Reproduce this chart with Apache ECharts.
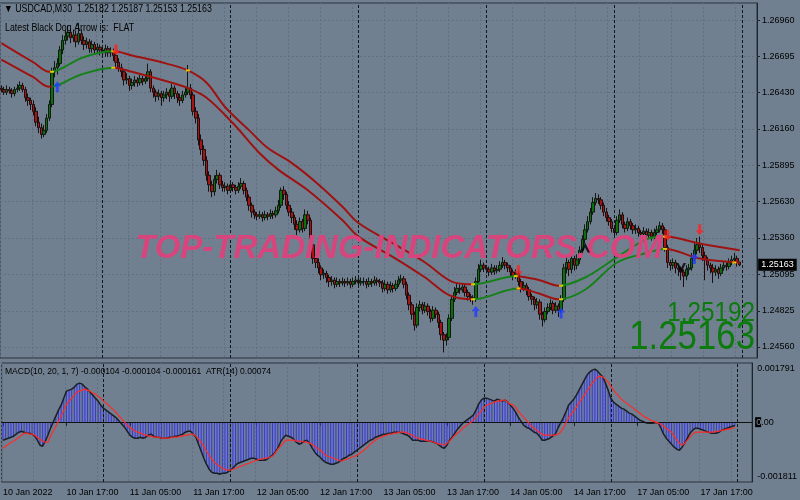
<!DOCTYPE html>
<html><head><meta charset="utf-8">
<script src="https://cdn.jsdelivr.net/npm/echarts@6/dist/echarts.min.js"></script>
<style>html,body{margin:0;padding:0;background:#708090;}#c{width:800px;height:500px;}</style>
</head><body><div id="c"></div>
<script>
const opens = [1.2646,1.2645,1.2643,1.2645,1.2644,1.2642,1.2645,1.2646,1.2648,1.2645,
1.2639,1.2637,1.2634,1.2629,1.2621,1.2617,1.2612,1.2615,1.2624,1.2634,
1.2658,1.2661,1.2664,1.2674,1.2681,1.2684,1.2687,1.2683,1.2685,1.2680,
1.2686,1.2681,1.2678,1.2680,1.2675,1.2678,1.2674,1.2676,1.2674,1.2672,
1.2675,1.2672,1.2673,1.2670,1.2665,1.2661,1.2658,1.2652,1.2653,1.2648,
1.2650,1.2652,1.2650,1.2653,1.2651,1.2653,1.2658,1.2646,1.2643,1.2640,
1.2642,1.2639,1.2641,1.2643,1.2640,1.2646,1.2642,1.2639,1.2637,1.2641,
1.2643,1.2646,1.2641,1.2629,1.2624,1.2608,1.2601,1.2593,1.2582,1.2575,
1.2570,1.2579,1.2582,1.2575,1.2573,1.2574,1.2571,1.2575,1.2573,1.2571,
1.2574,1.2576,1.2571,1.2566,1.2560,1.2555,1.2553,1.2552,1.2553,1.2551,
1.2553,1.2552,1.2554,1.2553,1.2556,1.2560,1.2571,1.2568,1.2560,1.2555,
1.2551,1.2546,1.2542,1.2548,1.2543,1.2553,1.2549,1.2531,1.2521,1.2518,
1.2514,1.2509,1.2510,1.2507,1.2504,1.2505,1.2502,1.2504,1.2503,1.2504,
1.2503,1.2504,1.2502,1.2504,1.2505,1.2503,1.2504,1.2504,1.2502,1.2504,
1.2503,1.2505,1.2504,1.2503,1.2499,1.2502,1.2498,1.2501,1.2499,1.2502,
1.2505,1.2506,1.2502,1.2494,1.2487,1.2480,1.2472,1.2485,1.2487,1.2483,
1.2486,1.2482,1.2477,1.2483,1.2480,1.2474,1.2465,1.2461,1.2463,1.2477,
1.2491,1.2496,1.2499,1.2498,1.2500,1.2496,1.2493,1.2492,1.2491,1.2504,
1.2513,1.2516,1.2514,1.2513,1.2511,1.2514,1.2512,1.2513,1.2516,1.2518,
1.2516,1.2514,1.2511,1.2508,1.2510,1.2504,1.2499,1.2501,1.2498,1.2493,
1.2491,1.2487,1.2489,1.2480,1.2476,1.2482,1.2485,1.2488,1.2483,1.2486,
1.2483,1.2491,1.2514,1.2518,1.2513,1.2521,1.2516,1.2520,1.2527,1.2535,
1.2542,1.2548,1.2555,1.2562,1.2565,1.2564,1.2560,1.2555,1.2551,1.2548,
1.2543,1.2540,1.2549,1.2553,1.2546,1.2543,1.2548,1.2545,1.2542,1.2543,
1.2540,1.2539,1.2541,1.2538,1.2540,1.2537,1.2540,1.2542,1.2545,1.2542,
1.2529,1.2518,1.2516,1.2518,1.2514,1.2513,1.2511,1.2508,1.2513,1.2514,
1.2521,1.2527,1.2531,1.2529,1.2523,1.2520,1.2516,1.2514,1.2511,1.2513,
1.2510,1.2514,1.2516,1.2515,1.2518,1.2520,1.2521,1.25182];
const closes = [1.2645,1.2643,1.2645,1.2644,1.2642,1.2645,1.2646,1.2648,1.2645,1.2639,
1.2637,1.2634,1.2629,1.2621,1.2617,1.2612,1.2615,1.2624,1.2634,1.2658,
1.2661,1.2664,1.2674,1.2681,1.2684,1.2687,1.2683,1.2685,1.2680,1.2686,
1.2681,1.2678,1.2680,1.2675,1.2678,1.2674,1.2676,1.2674,1.2672,1.2675,
1.2672,1.2673,1.2670,1.2665,1.2661,1.2658,1.2652,1.2653,1.2648,1.2650,
1.2652,1.2650,1.2653,1.2651,1.2653,1.2658,1.2646,1.2643,1.2640,1.2642,
1.2639,1.2641,1.2643,1.2640,1.2646,1.2642,1.2639,1.2637,1.2641,1.2643,
1.2646,1.2641,1.2629,1.2624,1.2608,1.2601,1.2593,1.2582,1.2575,1.2570,
1.2579,1.2582,1.2575,1.2573,1.2574,1.2571,1.2575,1.2573,1.2571,1.2574,
1.2576,1.2571,1.2566,1.2560,1.2555,1.2553,1.2552,1.2553,1.2551,1.2553,
1.2552,1.2554,1.2553,1.2556,1.2560,1.2571,1.2568,1.2560,1.2555,1.2551,
1.2546,1.2542,1.2548,1.2543,1.2553,1.2549,1.2531,1.2521,1.2518,1.2514,
1.2509,1.2510,1.2507,1.2504,1.2505,1.2502,1.2504,1.2503,1.2504,1.2503,
1.2504,1.2502,1.2504,1.2505,1.2503,1.2504,1.2504,1.2502,1.2504,1.2503,
1.2505,1.2504,1.2503,1.2499,1.2502,1.2498,1.2501,1.2499,1.2502,1.2505,
1.2506,1.2502,1.2494,1.2487,1.2480,1.2472,1.2485,1.2487,1.2483,1.2486,
1.2482,1.2477,1.2483,1.2480,1.2474,1.2465,1.2461,1.2463,1.2477,1.2491,
1.2496,1.2499,1.2498,1.2500,1.2496,1.2493,1.2492,1.2491,1.2504,1.2513,
1.2516,1.2514,1.2513,1.2511,1.2514,1.2512,1.2513,1.2516,1.2518,1.2516,
1.2514,1.2511,1.2508,1.2510,1.2504,1.2499,1.2501,1.2498,1.2493,1.2491,
1.2487,1.2489,1.2480,1.2476,1.2482,1.2485,1.2488,1.2483,1.2486,1.2483,
1.2491,1.2514,1.2518,1.2513,1.2521,1.2516,1.2520,1.2527,1.2535,1.2542,
1.2548,1.2555,1.2562,1.2565,1.2564,1.2560,1.2555,1.2551,1.2548,1.2543,
1.2540,1.2549,1.2553,1.2546,1.2543,1.2548,1.2545,1.2542,1.2543,1.2540,
1.2539,1.2541,1.2538,1.2540,1.2537,1.2540,1.2542,1.2545,1.2542,1.2529,
1.2518,1.2516,1.2518,1.2514,1.2513,1.2511,1.2508,1.2513,1.2514,1.2521,
1.2527,1.2531,1.2529,1.2523,1.2520,1.2516,1.2514,1.2511,1.2513,1.2510,
1.2514,1.2516,1.2515,1.2518,1.2520,1.2521,1.25182,1.25163];
const highs = [1.2648,1.2647,1.2648,1.2647,1.2646,1.2647,1.2649,1.2651,1.2650,1.2647,
1.2642,1.2639,1.2637,1.2632,1.2625,1.2620,1.2619,1.2627,1.2637,1.2661,
1.2666,1.2668,1.2677,1.2685,1.2689,1.2692,1.2690,1.2689,1.2688,1.2694,
1.2689,1.2684,1.2683,1.2682,1.2681,1.2680,1.2679,1.2678,1.2677,1.2678,
1.2677,1.2676,1.2675,1.2672,1.2668,1.2664,1.2660,1.2657,1.2655,1.2653,
1.2655,1.2654,1.2656,1.2655,1.2656,1.2664,1.2660,1.2648,1.2645,1.2645,
1.2644,1.2644,1.2646,1.2645,1.2649,1.2648,1.2644,1.2642,1.2644,1.2647,
1.2663,1.2649,1.2643,1.2632,1.2627,1.2612,1.2604,1.2596,1.2585,1.2578,
1.2582,1.2586,1.2584,1.2578,1.2577,1.2576,1.2578,1.2577,1.2575,1.2577,
1.2580,1.2578,1.2573,1.2568,1.2562,1.2557,1.2555,1.2556,1.2555,1.2556,
1.2555,1.2557,1.2556,1.2559,1.2564,1.2573,1.2574,1.2570,1.2563,1.2558,
1.2553,1.2549,1.2551,1.2550,1.2557,1.2556,1.2551,1.2533,1.2524,1.2521,
1.2516,1.2513,1.2512,1.2509,1.2508,1.2507,1.2507,1.2506,1.2507,1.2506,
1.2507,1.2506,1.2507,1.2508,1.2507,1.2507,1.2507,1.2506,1.2507,1.2506,
1.2508,1.2507,1.2506,1.2505,1.2505,1.2504,1.2504,1.2503,1.2505,1.2508,
1.2509,1.2508,1.2504,1.2496,1.2489,1.2482,1.2488,1.2490,1.2489,1.2489,
1.2488,1.2484,1.2486,1.2485,1.2482,1.2476,1.2467,1.2466,1.2480,1.2494,
1.2500,1.2503,1.2502,1.2503,1.2502,1.2498,1.2495,1.2494,1.2507,1.2517,
1.2520,1.2518,1.2516,1.2515,1.2517,1.2516,1.2516,1.2519,1.2522,1.2520,
1.2518,1.2516,1.2513,1.2513,1.2512,1.2506,1.2504,1.2503,1.2500,1.2495,
1.2493,1.2492,1.2491,1.2482,1.2485,1.2488,1.2491,1.2490,1.2489,1.2488,
1.2494,1.2517,1.2523,1.2520,1.2525,1.2523,1.2524,1.2530,1.2538,1.2546,
1.2552,1.2558,1.2566,1.2569,1.2568,1.2566,1.2562,1.2558,1.2553,1.2550,
1.2545,1.2552,1.2557,1.2555,1.2548,1.2551,1.2550,1.2547,1.2546,1.2545,
1.2542,1.2544,1.2543,1.2543,1.2542,1.2543,1.2545,1.2548,1.2547,1.2544,
1.2531,1.2520,1.2521,1.2520,1.2516,1.2515,1.2513,1.2516,1.2517,1.2525,
1.2533,1.2536,1.2537,1.2531,1.2526,1.2522,1.2518,1.2517,1.2516,1.2515,
1.2517,1.2519,1.2518,1.2521,1.2523,1.2525,1.2523,1.25187];
const lows = [1.2643,1.2641,1.2641,1.2642,1.2639,1.2640,1.2643,1.2644,1.2643,1.2636,
1.2633,1.2630,1.2626,1.2618,1.2613,1.2609,1.2610,1.2613,1.2622,1.2632,
1.2654,1.2656,1.2662,1.2671,1.2678,1.2681,1.2679,1.2680,1.2676,1.2678,
1.2678,1.2674,1.2675,1.2672,1.2672,1.2671,1.2671,1.2670,1.2669,1.2669,
1.2669,1.2669,1.2666,1.2661,1.2658,1.2654,1.2648,1.2649,1.2644,1.2645,
1.2647,1.2647,1.2648,1.2648,1.2649,1.2651,1.2643,1.2639,1.2636,1.2637,
1.2633,1.2636,1.2638,1.2636,1.2638,1.2638,1.2635,1.2633,1.2635,1.2639,
1.2641,1.2638,1.2626,1.2620,1.2604,1.2597,1.2589,1.2578,1.2570,1.2566,
1.2567,1.2576,1.2572,1.2570,1.2570,1.2568,1.2569,1.2570,1.2568,1.2569,
1.2572,1.2568,1.2563,1.2556,1.2551,1.2550,1.2549,1.2550,1.2548,1.2549,
1.2549,1.2550,1.2550,1.2551,1.2554,1.2558,1.2564,1.2557,1.2552,1.2547,
1.2542,1.2538,1.2540,1.2540,1.2541,1.2546,1.2528,1.2517,1.2514,1.2510,
1.2505,1.2506,1.2503,1.2500,1.2501,1.2499,1.2500,1.2500,1.2501,1.2500,
1.2501,1.2499,1.2500,1.2502,1.2500,1.2501,1.2501,1.2499,1.2500,1.2500,
1.2501,1.2501,1.2500,1.2496,1.2497,1.2495,1.2496,1.2496,1.2497,1.2500,
1.2503,1.2499,1.2491,1.2483,1.2476,1.2468,1.2470,1.2482,1.2480,1.2481,
1.2479,1.2474,1.2475,1.2477,1.2470,1.2461,1.2452,1.2457,1.2461,1.2475,
1.2489,1.2494,1.2495,1.2496,1.2493,1.2490,1.2489,1.2487,1.2489,1.2502,
1.2511,1.2511,1.2510,1.2508,1.2509,1.2509,1.2510,1.2511,1.2514,1.2513,
1.2511,1.2508,1.2505,1.2506,1.2501,1.2496,1.2497,1.2494,1.2490,1.2487,
1.2483,1.2484,1.2476,1.2471,1.2474,1.2480,1.2483,1.2480,1.2481,1.2478,
1.2481,1.2489,1.2510,1.2508,1.2510,1.2512,1.2513,1.2517,1.2525,1.2532,
1.2540,1.2546,1.2553,1.2560,1.2561,1.2557,1.2552,1.2548,1.2545,1.2540,
1.2537,1.2538,1.2547,1.2543,1.2540,1.2541,1.2542,1.2539,1.2539,1.2537,
1.2536,1.2537,1.2535,1.2536,1.2534,1.2535,1.2538,1.2540,1.2539,1.2526,
1.2514,1.2512,1.2513,1.2510,1.2508,1.2505,1.2500,1.2505,1.2509,1.2512,
1.2519,1.2524,1.2525,1.2519,1.2505,1.2512,1.2510,1.2503,1.2508,1.2506,
1.2508,1.2512,1.2512,1.2513,1.2516,1.2517,1.2515,1.25153];

const upperBand = [[0,1.2679],[12,1.2665],[18,1.2658],[21,1.2659],[30,1.2668],[37,1.2672],[42,1.2673],[49,1.2670],[62,1.2664],[70,1.2659],[77,1.2650],[84,1.2632],[93,1.2615],[100,1.2602],[109,1.2591],[118,1.2577],[128,1.2559],[134,1.2547],[147,1.2532],[159,1.2518],[169,1.2504],[177,1.2502],[193,1.2508],[202,1.2505],[209,1.2501],[219,1.2507],[231,1.2522],[242,1.2535],[249,1.2537],[262,1.2532],[277,1.2527]];
const lowerBand = [[0,1.2667],[12,1.2654],[18,1.2647],[21,1.2648],[30,1.2656],[42,1.2661],[49,1.2658],[62,1.2651],[70,1.2646],[77,1.2639],[87,1.2620],[97,1.2598],[104,1.2586],[115,1.2571],[128,1.2549],[134,1.2537],[147,1.2522],[159,1.2507],[168,1.2494],[177,1.2491],[194,1.2499],[202,1.2495],[209,1.2491],[219,1.2498],[231,1.2518],[242,1.2525],[249,1.2528],[262,1.2521],[277,1.2518]];
const greenRanges = [[19,42],[177,193],[210,249]];
const bandDots = [[19,1.2658],[42,1.2673],[70,1.2659],[177,1.2502],[193,1.2508],[210,1.2501],[249,1.2537],[42,1.2661],[177,1.2491],[194,1.2499],[210,1.2491],[249,1.2528],[275,1.2518]];
const buyArrows = [[21,1.2647],[178,1.2482],[210,1.2481],[260,1.2521]];
const sellArrows = [[43,1.2674],[194,1.2512],[250,1.2538],[262,1.2542]];
const hookUp = [[219,1.2529]];
const hookDown = [[255,1.2514]];

const macdMain = [-5.45e-4,-5.15e-4,-4.85e-4,-4.55e-4,-4.24e-4,-3.64e-4,-3.03e-4,-2.73e-4,-3.03e-4,-3.33e-4,
-3.33e-4,-3.64e-4,-4.24e-4,-5.45e-4,-6.97e-4,-7.27e-4,-5.76e-4,-3.94e-4,-1.82e-4,0,
1.82e-4,3.64e-4,5.15e-4,7.27e-4,9.39e-4,9.70e-4,1.000e-3,1.061e-3,1.151e-3,1.182e-3,
1.151e-3,1.061e-3,1.000e-3,9.09e-4,8.18e-4,7.27e-4,6.36e-4,5.15e-4,4.24e-4,3.64e-4,
3.03e-4,2.42e-4,1.82e-4,1.21e-4,3.0e-5,-6.1e-5,-1.52e-4,-2.73e-4,-3.94e-4,-4.55e-4,
-4.85e-4,-4.85e-4,-4.55e-4,-4.85e-4,-4.55e-4,-3.94e-4,-3.64e-4,-4.24e-4,-4.55e-4,-4.55e-4,
-4.85e-4,-4.85e-4,-4.85e-4,-4.55e-4,-4.55e-4,-4.24e-4,-4.24e-4,-3.94e-4,-3.64e-4,-3.03e-4,
-2.73e-4,-2.73e-4,-3.64e-4,-4.55e-4,-6.67e-4,-8.79e-4,-1.091e-3,-1.273e-3,-1.424e-3,-1.515e-3,
-1.545e-3,-1.545e-3,-1.576e-3,-1.545e-3,-1.545e-3,-1.515e-3,-1.454e-3,-1.394e-3,-1.303e-3,-1.242e-3,
-1.212e-3,-1.182e-3,-1.151e-3,-1.121e-3,-1.091e-3,-1.091e-3,-1.121e-3,-1.151e-3,-1.151e-3,-1.151e-3,
-1.121e-3,-1.061e-3,-1.000e-3,-9.09e-4,-7.88e-4,-6.06e-4,-4.85e-4,-3.94e-4,-4.24e-4,-4.55e-4,
-5.15e-4,-6.06e-4,-6.67e-4,-6.36e-4,-5.76e-4,-5.45e-4,-6.36e-4,-7.88e-4,-9.09e-4,-1.000e-3,
-1.061e-3,-1.151e-3,-1.212e-3,-1.242e-3,-1.273e-3,-1.273e-3,-1.242e-3,-1.212e-3,-1.151e-3,-1.091e-3,
-1.061e-3,-1.000e-3,-9.70e-4,-9.09e-4,-8.48e-4,-7.88e-4,-7.27e-4,-6.67e-4,-6.06e-4,-5.45e-4,
-5.15e-4,-4.55e-4,-4.24e-4,-3.94e-4,-3.64e-4,-3.64e-4,-3.33e-4,-3.33e-4,-3.03e-4,-3.03e-4,
-3.03e-4,-3.33e-4,-3.64e-4,-3.94e-4,-4.55e-4,-5.45e-4,-5.45e-4,-5.45e-4,-5.76e-4,-5.76e-4,
-5.76e-4,-5.76e-4,-5.76e-4,-6.06e-4,-6.36e-4,-6.97e-4,-7.58e-4,-7.88e-4,-6.97e-4,-5.45e-4,
-4.55e-4,-3.33e-4,-2.12e-4,-1.21e-4,-3.0e-5,3.0e-5,9.1e-5,1.52e-4,2.12e-4,3.64e-4,
5.45e-4,6.67e-4,7.27e-4,7.27e-4,6.97e-4,6.67e-4,6.36e-4,6.97e-4,6.67e-4,6.36e-4,
6.67e-4,6.06e-4,5.15e-4,4.24e-4,3.03e-4,1.52e-4,3.0e-5,-9.1e-5,-1.52e-4,-1.82e-4,
-2.42e-4,-3.03e-4,-3.33e-4,-4.24e-4,-5.45e-4,-5.45e-4,-5.15e-4,-4.85e-4,-4.24e-4,-3.64e-4,
-1.82e-4,-3.0e-5,1.21e-4,3.03e-4,5.15e-4,6.06e-4,6.97e-4,8.18e-4,9.70e-4,1.121e-3,
1.273e-3,1.424e-3,1.515e-3,1.576e-3,1.606e-3,1.545e-3,1.454e-3,1.364e-3,1.182e-3,9.70e-4,
7.27e-4,6.06e-4,5.45e-4,4.85e-4,4.24e-4,3.94e-4,3.33e-4,2.73e-4,2.42e-4,1.82e-4,
1.21e-4,6.1e-5,3.0e-5,-1.0e-5,-3.0e-5,-3.0e-5,-3.0e-5,-1.0e-5,-3.0e-5,-1.82e-4,
-3.64e-4,-4.85e-4,-5.76e-4,-6.67e-4,-7.58e-4,-8.18e-4,-8.48e-4,-7.58e-4,-6.36e-4,-4.85e-4,
-3.33e-4,-2.42e-4,-1.82e-4,-1.82e-4,-2.12e-4,-2.42e-4,-2.73e-4,-3.03e-4,-3.33e-4,-3.33e-4,
-3.33e-4,-3.03e-4,-2.42e-4,-2.12e-4,-1.82e-4,-1.52e-4,-1.21e-4,-1.04e-4];
const macdSignal = [-7.88e-4,-7.27e-4,-6.67e-4,-6.06e-4,-5.76e-4,-5.15e-4,-4.55e-4,-3.94e-4,-3.33e-4,-3.33e-4,
-3.64e-4,-3.64e-4,-3.94e-4,-4.55e-4,-5.15e-4,-5.76e-4,-6.06e-4,-6.06e-4,-4.24e-4,-2.73e-4,
-1.21e-4,3.0e-5,1.82e-4,3.64e-4,5.45e-4,6.36e-4,7.27e-4,8.18e-4,9.09e-4,9.39e-4,
9.70e-4,1.000e-3,9.70e-4,9.39e-4,8.79e-4,8.48e-4,7.88e-4,7.27e-4,6.36e-4,5.76e-4,
5.15e-4,4.24e-4,3.64e-4,2.73e-4,1.82e-4,9.1e-5,0,-9.1e-5,-1.52e-4,-2.12e-4,
-2.73e-4,-3.03e-4,-3.33e-4,-3.64e-4,-3.94e-4,-4.24e-4,-4.24e-4,-4.55e-4,-4.55e-4,-4.55e-4,
-4.85e-4,-4.85e-4,-4.85e-4,-4.85e-4,-4.55e-4,-4.55e-4,-4.55e-4,-4.24e-4,-4.24e-4,-3.94e-4,
-3.94e-4,-3.64e-4,-3.64e-4,-4.24e-4,-5.15e-4,-6.06e-4,-7.27e-4,-8.79e-4,-1.000e-3,-1.121e-3,
-1.212e-3,-1.273e-3,-1.333e-3,-1.394e-3,-1.424e-3,-1.454e-3,-1.454e-3,-1.424e-3,-1.394e-3,-1.364e-3,
-1.333e-3,-1.303e-3,-1.273e-3,-1.242e-3,-1.212e-3,-1.182e-3,-1.151e-3,-1.121e-3,-1.121e-3,-1.091e-3,
-1.091e-3,-1.061e-3,-1.030e-3,-9.39e-4,-8.18e-4,-7.27e-4,-6.36e-4,-5.45e-4,-5.45e-4,-5.45e-4,
-5.45e-4,-5.76e-4,-5.76e-4,-5.76e-4,-6.06e-4,-6.06e-4,-6.36e-4,-6.67e-4,-7.27e-4,-7.88e-4,
-8.48e-4,-9.09e-4,-1.000e-3,-1.030e-3,-1.061e-3,-1.091e-3,-1.121e-3,-1.151e-3,-1.182e-3,-1.151e-3,
-1.121e-3,-1.091e-3,-1.061e-3,-1.030e-3,-1.000e-3,-9.39e-4,-8.79e-4,-8.18e-4,-7.58e-4,-6.67e-4,
-6.06e-4,-5.45e-4,-4.85e-4,-4.55e-4,-4.24e-4,-3.94e-4,-3.64e-4,-3.64e-4,-3.33e-4,-3.33e-4,
-3.03e-4,-3.03e-4,-3.03e-4,-3.33e-4,-3.64e-4,-3.94e-4,-4.55e-4,-4.85e-4,-5.15e-4,-5.15e-4,
-5.45e-4,-5.76e-4,-5.76e-4,-6.06e-4,-6.36e-4,-6.67e-4,-6.67e-4,-6.97e-4,-6.36e-4,-5.76e-4,
-4.85e-4,-3.94e-4,-3.33e-4,-2.73e-4,-1.82e-4,-1.21e-4,-6.1e-5,0,6.1e-5,1.52e-4,
2.42e-4,3.33e-4,4.55e-4,5.15e-4,5.45e-4,5.76e-4,6.06e-4,6.36e-4,6.36e-4,6.67e-4,
6.67e-4,6.06e-4,5.45e-4,5.15e-4,4.55e-4,3.33e-4,2.42e-4,1.52e-4,6.1e-5,-3.0e-5,
-1.21e-4,-1.82e-4,-2.42e-4,-3.03e-4,-3.64e-4,-3.94e-4,-3.94e-4,-3.94e-4,-3.94e-4,-3.94e-4,
-3.64e-4,-3.03e-4,-1.82e-4,-3.0e-5,1.21e-4,2.42e-4,3.33e-4,4.55e-4,5.76e-4,6.97e-4,
8.18e-4,9.39e-4,1.061e-3,1.182e-3,1.273e-3,1.364e-3,1.394e-3,1.364e-3,1.303e-3,1.212e-3,
1.091e-3,9.70e-4,8.79e-4,7.88e-4,6.97e-4,6.36e-4,5.76e-4,5.15e-4,4.55e-4,3.94e-4,
3.33e-4,2.73e-4,2.12e-4,1.52e-4,1.21e-4,6.1e-5,3.0e-5,0,-3.0e-5,-6.1e-5,
-1.21e-4,-1.82e-4,-2.42e-4,-3.03e-4,-4.24e-4,-5.45e-4,-6.36e-4,-6.97e-4,-6.36e-4,-5.45e-4,
-4.55e-4,-3.64e-4,-3.03e-4,-3.03e-4,-3.03e-4,-3.03e-4,-3.03e-4,-3.03e-4,-3.03e-4,-3.03e-4,
-2.73e-4,-2.73e-4,-2.42e-4,-2.42e-4,-2.12e-4,-2.12e-4,-1.82e-4,-1.61e-4];

const priceTicks = [1.24560,1.24825,1.25095,1.25360,1.25630,1.25895,1.26160,1.26430,1.26695,1.26960];
const macdTicks = [-0.001811, 0, 0.001791];
const lastPrice = 1.25163;
const daySeparators = [38, 86, 134, 182, 230, 278];

// time categories: M30 bars from 10 Jan 2022 05:00, weekend skipped, plus chart-shift slots
const categories = [];
(function(){
  let t = Date.UTC(2022,0,10,5,0);
  for (let k = 0; k < 284; k++) {
    if (new Date(t).getUTCDay() === 6) t += 2*86400000;
    const d = new Date(t);
    categories.push(d.getUTCDate() + ' Jan ' + String(d.getUTCHours()).padStart(2,'0') + ':' + String(d.getUTCMinutes()).padStart(2,'0'));
    t += 1800000;
  }
})();

const RED = '#9e1212', GREEN = '#16801a';
const pieces = [];
let prev = null;
greenRanges.forEach(r => {
  pieces.push(prev === null ? {lt: r[0], color: RED} : {gt: prev, lt: r[0], color: RED});
  pieces.push({gte: r[0], lte: r[1], color: GREEN});
  prev = r[1];
});
pieces.push({gt: prev, color: RED});

const FONT = 'Liberation Sans';
const AX = 9;
const candleData = opens.map((o, i) => [o, closes[i], lows[i], highs[i]]);
const sepLines = daySeparators.map(i => ({xAxis: i}));
const every = n => (idx) => idx % n === 0;

const chart = echarts.init(document.getElementById('c'), null, {renderer: 'canvas'});
chart.setOption({
  backgroundColor: '#708090',
  animation: false,
  grid: [
    {left: 0, right: 43, top: 3, height: 355, show: true, borderColor: '#2b333c', borderWidth: 1},
    {left: 0, right: 43, top: 363, height: 119, show: true, borderColor: '#2b333c', borderWidth: 1}
  ],
  xAxis: [
    {type: 'category', gridIndex: 0, data: categories, boundaryGap: true,
     axisLine: {show: false}, axisTick: {show: false}, axisLabel: {show: false},
     splitLine: {show: true, interval: every(12), lineStyle: {color: '#62707d', type: [2, 2]}}},
    {type: 'category', gridIndex: 1, data: categories, boundaryGap: true,
     axisLine: {show: true, lineStyle: {color: '#1e242b'}},
     axisTick: {show: true, alignWithLabel: true, interval: every(24), length: 4, lineStyle: {color: '#1e242b'}},
     axisLabel: {show: true, interval: every(24), align: 'left', margin: 6, color: '#000', fontSize: AX, fontFamily: FONT,
       formatter: (v, idx) => idx === 0 ? '10 Jan 2022' : v},
     splitLine: {show: true, interval: every(12), lineStyle: {color: '#62707d', type: [2, 2]}}}
  ],
  yAxis: [
    {type: 'value', gridIndex: 0, position: 'right', min: 1.24479, max: 1.27085, scale: true,
     axisLine: {show: true, lineStyle: {color: '#1e242b'}},
     axisTick: {show: true, customValues: priceTicks, length: 3, lineStyle: {color: '#1e242b'}},
     axisLabel: {customValues: priceTicks, formatter: v => v.toFixed(5), color: '#000', fontSize: AX, fontFamily: FONT, margin: 5},
     splitLine: {show: true, lineStyle: {color: '#62707d', type: [2, 2]}}},
    {type: 'value', gridIndex: 1, position: 'right', min: -0.001811, max: 0.001791,
     axisLine: {show: true, lineStyle: {color: '#1e242b'}},
     axisTick: {show: false, customValues: macdTicks},
     axisLabel: {customValues: macdTicks, color: '#000', fontSize: AX, fontFamily: FONT, margin: 3,
       formatter: v => v > 0 ? '{t|' + v.toFixed(6) + '}' : (v < 0 ? '{b|' + v.toFixed(6) + '}' : '{z|0}{n|.00}'),
       rich: {t: {padding: [12, 0, 0, 2], fontSize: AX, fontFamily: FONT, color: '#000'},
              b: {padding: [0, 0, 10, 2], fontSize: AX, fontFamily: FONT, color: '#000'},
              z: {backgroundColor: '#000', color: '#8a96a2', fontSize: AX, fontFamily: FONT, padding: [1, 0, 0, 1]},
              n: {fontSize: AX, fontFamily: FONT, color: '#000'}}},
     splitLine: {show: false}}
  ],
  visualMap: [{type: 'piecewise', show: false, seriesIndex: [1, 2], dimension: 0, pieces: pieces}],
  graphic: [
    {type: 'text', x: 4, y: 9, z: 200, scaleX: 0.84, style: {text: '▼ USDCAD,M30  1.25182 1.25187 1.25153 1.25163', fill: '#000', fontSize: 10.5, fontFamily: FONT, align: 'left', verticalAlign: 'middle'}},
    {type: 'text', x: 5, y: 28, z: 200, scaleX: 0.84, style: {text: 'Latest Black Dog Arrow is:  FLAT', fill: '#000', fontSize: 10.5, fontFamily: FONT, align: 'left', verticalAlign: 'middle'}},
    {type: 'text', x: 5, y: 371, z: 200, scaleX: 0.9, style: {text: 'MACD(10, 20, 1, 7) -0.000104 -0.000104 -0.000161  ATR(14) 0.00074', fill: '#000', fontSize: 9.5, fontFamily: FONT, align: 'left', verticalAlign: 'middle'}},
    {type: 'text', x: 399, y: 249, z: 150, scaleX: 0.97, style: {text: 'TOP-TRADING-INDICATORS.COM', fill: '#d8457d', fontSize: 34, fontWeight: 'bold', fontStyle: 'italic', fontFamily: FONT, align: 'center', verticalAlign: 'middle'}},
    {type: 'text', x: 755, y: 314, z: 200, scaleX: 0.9, style: {text: '1.25192', fill: '#0c7a0c', fontSize: 27, fontFamily: FONT, align: 'right', verticalAlign: 'middle'}},
    {type: 'text', x: 755, y: 338, z: 200, scaleX: 0.87, style: {text: '1.25163', fill: '#0c7a0c', fontSize: 40, fontFamily: FONT, align: 'right', verticalAlign: 'middle'}}
  ],
  series: [
    {type: 'candlestick', xAxisIndex: 0, yAxisIndex: 0, data: candleData, barWidth: 3, z: 3,
     itemStyle: {color: '#0d6e0d', color0: '#a81414', borderColor: '#101a10', borderColor0: '#1c0e0e', borderWidth: 1},
     markLine: {silent: true, symbol: 'none', animation: false,
       label: {show: false},
       lineStyle: {color: '#10151b', type: [3, 2], width: 1},
       data: sepLines}},
    {type: 'line', xAxisIndex: 0, yAxisIndex: 0, data: upperBand, smooth: 0.35, showSymbol: false, symbol: 'none', z: 5, lineStyle: {width: 2}},
    {type: 'line', xAxisIndex: 0, yAxisIndex: 0, data: lowerBand, smooth: 0.35, showSymbol: false, symbol: 'none', z: 5, lineStyle: {width: 2}},
    {type: 'scatter', xAxisIndex: 0, yAxisIndex: 0, data: bandDots, symbol: 'rect', symbolSize: [4, 2], z: 6, itemStyle: {color: '#ffee00'}},
    {type: 'scatter', xAxisIndex: 0, yAxisIndex: 0, data: buyArrows, z: 210, symbol: 'path://M4,0 L8,5 L5.5,5 L5.5,11 L2.5,11 L2.5,5 L0,5 Z', symbolSize: [8, 11], itemStyle: {color: '#1f3dff'}},
    {type: 'scatter', xAxisIndex: 0, yAxisIndex: 0, data: sellArrows, z: 210, symbol: 'path://M4,0 L8,5 L5.5,5 L5.5,11 L2.5,11 L2.5,5 L0,5 Z', symbolRotate: 180, symbolSize: [8, 11], itemStyle: {color: '#ff2020'}},
    {type: 'scatter', xAxisIndex: 0, yAxisIndex: 0, data: hookUp, z: 210, symbol: 'path://M0,9 L5,0 L10,9 L7.5,9 L5,4.5 L2.5,9 Z', symbolSize: [10, 10], itemStyle: {color: '#000'}},
    {type: 'scatter', xAxisIndex: 0, yAxisIndex: 0, data: hookDown, z: 210, symbol: 'path://M0,9 L5,0 L10,9 L7.5,9 L5,4.5 L2.5,9 Z', symbolRotate: 180, symbolSize: [10, 10], itemStyle: {color: '#000'}},
    {type: 'line', xAxisIndex: 0, yAxisIndex: 0, data: categories.map(() => lastPrice), showSymbol: false, symbol: 'none', z: 220, silent: true,
     lineStyle: {width: 0, opacity: 0},
     markPoint: {symbol: 'rect', symbolSize: 1, silent: true, itemStyle: {color: 'rgba(0,0,0,0)'},
       data: [{coord: [categories.length - 1, lastPrice]}],
       label: {show: true, position: 'right', distance: 2, formatter: '1.25163', backgroundColor: '#000', color: '#fff', fontSize: AX, fontFamily: FONT, padding: [2, 3, 1, 3]}}},
    {type: 'bar', xAxisIndex: 1, yAxisIndex: 1, data: macdMain, barWidth: 1, itemStyle: {color: '#3535ee'}, z: 2,
     markLine: {silent: true, symbol: 'none', animation: false, label: {show: false},
       lineStyle: {color: '#10151b', type: [3, 2], width: 1},
       data: sepLines.concat([{yAxis: 0, lineStyle: {color: '#111', type: 'solid', width: 1}}])}},
    {type: 'line', xAxisIndex: 1, yAxisIndex: 1, data: macdMain, showSymbol: false, symbol: 'none', z: 4, lineStyle: {color: '#1b1f24', width: 1.5}},
    {type: 'line', xAxisIndex: 1, yAxisIndex: 1, data: macdSignal, showSymbol: false, symbol: 'none', z: 5, lineStyle: {color: '#ff2a2a', width: 1.2}}
  ]
});
</script>
</body></html>
